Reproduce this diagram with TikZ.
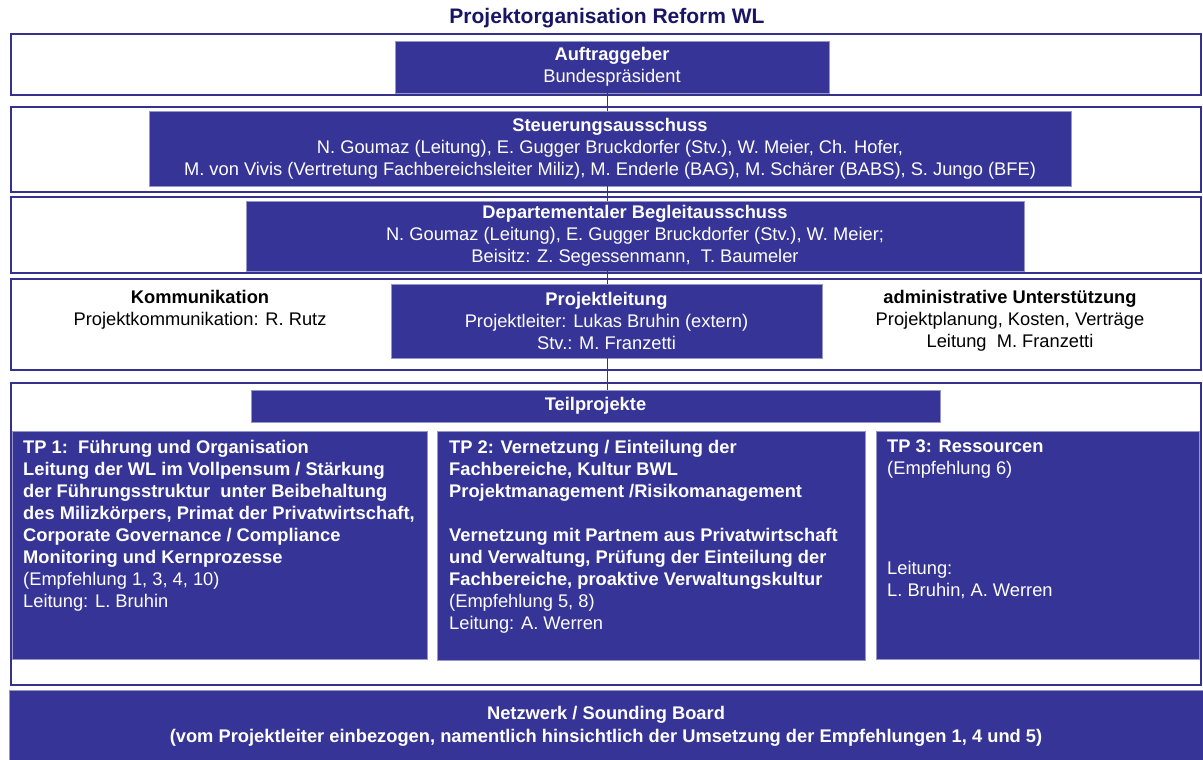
\documentclass[tikz,border=0pt]{standalone}
\usepackage{fontspec}
\setmainfont{Liberation Sans}
\definecolor{pblue}{RGB}{54,52,150}
\definecolor{pframe}{RGB}{52,50,140}
\definecolor{ptitle}{RGB}{24,22,100}
\definecolor{pedge}{RGB}{150,150,200}
\begin{document}
\begin{tikzpicture}[x=1pt,y=-1pt,
  rowframe/.style={draw=pframe, line width=1.2pt, fill=white, inner sep=0pt, minimum width=1190pt},
  bluebox/.style={fill=pblue, draw=pedge, line width=0.6pt, inner sep=0pt, text=white,
    align=center, font=\fontsize{18.3pt}{22pt}\selectfont},
  sidetext/.style={inner sep=0pt, align=center, text=black, font=\fontsize{18.3pt}{22pt}\selectfont},
  tptext/.style={inner sep=0pt, align=left, text=white, anchor=north west, font=\fontsize{18.3pt}{22pt}\selectfont},
  conn/.style={draw=pframe, line width=0.8pt}]
\useasboundingbox (0,0) rectangle (1203,760);
\fill[white] (0,0) rectangle (1203,760);

% title
\node[inner sep=0pt, text=ptitle, font=\fontsize{21pt}{24pt}\selectfont\bfseries] (title) at (607,18) {Projektorganisation Reform WL};

% row frames
\node[rowframe, minimum height=61pt] (r1) at (606,64.5) {};
\node[rowframe, minimum height=85pt] (r2) at (606,149.5) {};
\node[rowframe, minimum height=76pt] (r3) at (606,235) {};
\node[rowframe, minimum height=91pt] (r4) at (606,324.5) {};
\node[rowframe, minimum height=302pt] (r5) at (606,534) {};

\coordinate (spine) at (607,0);

% blue boxes
\node[bluebox, minimum width=434pt, minimum height=52pt] (auf) at (612,67)
  {\textbf{Auftraggeber}\\Bundespräsident};
\node[bluebox, minimum width=922pt, minimum height=75pt] (steu) at (610,148.5)
  {\textbf{Steuerungsausschuss}\\N. Goumaz (Leitung), E. Gugger Bruckdorfer (Stv.), W. Meier, Ch. Hofer,\\M. von Vivis (Vertretung Fachbereichsleiter Miliz), M. Enderle (BAG), M. Schärer (BABS), S. Jungo (BFE)};
\node[bluebox, minimum width=778pt, minimum height=70pt] (beg) at (635,236)
  {\textbf{Departementaler Begleitausschuss}\\N. Goumaz (Leitung), E. Gugger Bruckdorfer (Stv.), W. Meier;\\Beisitz: Z. Segessenmann,\ \ T. Baumeler};
\node[bluebox, minimum width=431pt, minimum height=74pt] (pl) at (606.5,321)
  {\textbf{Projektleitung}\\Projektleiter: Lukas Bruhin (extern)\\Stv.: M. Franzetti};
\node[sidetext] (komm) at (200,309.5)
  {\textbf{Kommunikation}\\Projektkommunikation: R. Rutz};
\node[sidetext] (admin) at (1010,321)
  {\textbf{administrative Unterstützung}\\Projektplanung, Kosten, Verträge\\Leitung\ \ M. Franzetti};
\node[bluebox, minimum width=689pt, minimum height=32pt] (teil) at (595.5,406)
  {\textbf{Teilprojekte}};

% TP boxes
\node[bluebox, anchor=north west, minimum width=415pt, minimum height=228pt] (tp1) at (12,431) {};
\node[bluebox, anchor=north west, minimum width=428pt, minimum height=229pt] (tp2) at (437,431) {};
\node[bluebox, anchor=north west, minimum width=323pt, minimum height=228pt] (tp3) at (876,431) {};

\node[tptext] (tp1t) at ([xshift=11pt,yshift=-9pt]tp1.north west)
  {\textbf{TP 1:\ \ Führung und Organisation}\\
   \textbf{Leitung der WL im Vollpensum / Stärkung}\\
   \textbf{der Führungsstruktur\ \ unter Beibehaltung}\\
   \textbf{des Milizkörpers, Primat der Privatwirtschaft,}\\
   \textbf{Corporate Governance / Compliance}\\
   \textbf{Monitoring und Kernprozesse}\\
   (Empfehlung 1, 3, 4, 10)\\
   Leitung: L. Bruhin};
\node[tptext] (tp2t) at ([xshift=12pt,yshift=-9pt]tp2.north west)
  {\textbf{TP 2: Vernetzung / Einteilung der}\\
   \textbf{Fachbereiche, Kultur BWL}\\
   \textbf{Projektmanagement /Risikomanagement}\\[22pt]
   \textbf{Vernetzung mit Partnem aus Privatwirtschaft}\\
   \textbf{und Verwaltung, Prüfung der Einteilung der}\\
   \textbf{Fachbereiche, proaktive Verwaltungskultur}\\
   (Empfehlung 5, 8)\\
   Leitung: A. Werren};
\node[tptext] (tp3t) at ([xshift=11pt,yshift=-9pt]tp3.north west)
  {\textbf{TP 3: Ressourcen}\\
   (Empfehlung 6)\\[78pt]
   Leitung:\\
   L. Bruhin, A. Werren};

% network
\node[bluebox, minimum width=1194pt, minimum height=72pt, font=\fontsize{18.3pt}{23pt}\selectfont\bfseries] (netz) at (606,726)
  {Netzwerk / Sounding Board\\(vom Projektleiter einbezogen, namentlich hinsichtlich der Umsetzung der Empfehlungen 1, 4 und 5)};

% connectors
\draw[conn] (auf.south -| spine) -- (steu.north -| spine);
\draw[conn] (steu.south -| spine) -- (beg.north -| spine);
\draw[conn] (beg.south -| spine) -- (pl.north -| spine);
\draw[conn] (pl.south -| spine) -- (teil.north -| spine);
\end{tikzpicture}
\end{document}
